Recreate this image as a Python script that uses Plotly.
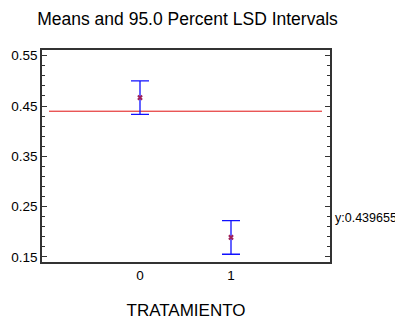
import plotly.graph_objects as go

categories = ["0", "1"]
cat_pos = [0, 1]
means = [0.4667, 0.1888]
half_width = [0.0332, 0.0334]
grand_mean = 0.439655
line_x = [-1, 2]
y_tick_vals = [0.15, 0.25, 0.35, 0.45, 0.55]
y_tick_text = ["0.15", "0.25", "0.35", "0.45", "0.55"]

FONT = "Liberation Sans, Arial, sans-serif"

# The page body keeps its default 8px margin, so the figure is sized to fill the
# remaining visible area of the 403x322 window.
W, H = 395, 314

fig = go.Figure()
fig.add_trace(go.Scatter(
    x=line_x, y=[grand_mean, grand_mean], mode="lines",
    line=dict(color="#e01010", width=1), hoverinfo="skip", showlegend=False))
fig.add_trace(go.Scatter(
    x=cat_pos, y=means, mode="markers",
    marker=dict(symbol="x", size=5, color="#a0205a"),
    error_y=dict(type="data", array=half_width, color="#1010ff",
                 thickness=1.3, width=9),
    showlegend=False))

fig.add_annotation(text="y:" + str(grand_mean), xref="paper", yref="paper",
                   x=1, y=(254 - 210) / 212, xanchor="left", yanchor="middle", xshift=4,
                   showarrow=False, borderpad=0,
                   font=dict(family=FONT, size=12.5, color="black"))

fig.update_layout(
    width=W, height=H,
    margin=dict(l=34, r=73, t=42, b=60, autoexpand=False),
    paper_bgcolor="white", plot_bgcolor="white",
    title=dict(text="Means and 95.0 Percent LSD Intervals", x=179.5 / W,
               xanchor="center", xref="container", y=1 - 11 / H, yanchor="middle",
               font=dict(family=FONT, size=17.5, color="black")),
    font=dict(family=FONT, size=13.5, color="black"),
)
fig.update_xaxes(
    range=[-1.077, 2.088], tickvals=cat_pos, ticktext=categories, ticks="",
    showgrid=False, zeroline=False, showline=True, linecolor="#333333",
    linewidth=2, mirror=True, automargin=False,
    title=dict(text="TRATAMIENTO", font=dict(family=FONT, size=17, color="black"), standoff=22),
    tickfont=dict(family=FONT, size=13.5))
fig.update_yaxes(
    range=[0.14, 0.5613], tickvals=y_tick_vals, ticktext=y_tick_text,
    ticks="inside", ticklen=5, tickcolor="#333333", tickwidth=1,
    minor=dict(tickvals=[round(0.15 + 0.02 * i, 2) for i in range(21)],
               ticks="inside", ticklen=3, tickcolor="#333333", tickwidth=1),
    showgrid=False, zeroline=False, showline=True, linecolor="#333333",
    linewidth=1.5, mirror="ticks", automargin=False, tickfont=dict(family=FONT, size=13.5))

fig.write_html("out.html")
